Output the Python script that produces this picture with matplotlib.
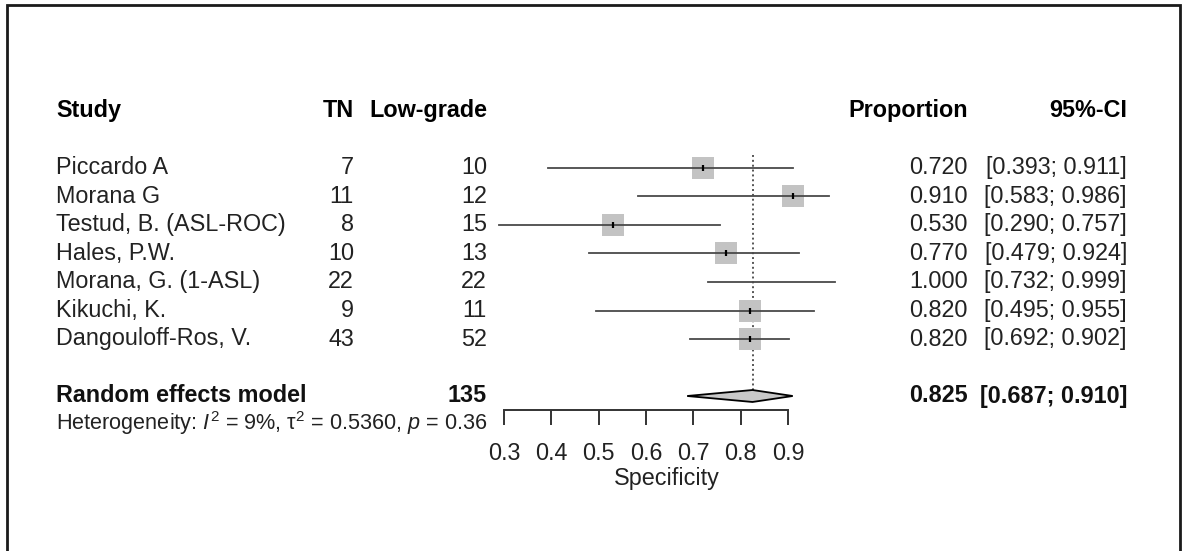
# forest plot of specificity (true negatives among low-grade tumours)

import numpy as np
import matplotlib.pyplot as plt
import matplotlib.transforms as mtransforms
from matplotlib.patches import Rectangle

plt.rcParams['font.family'] = ['Liberation Sans', 'DejaVu Sans']
plt.rcParams['mathtext.fontset'] = 'custom'
plt.rcParams['mathtext.rm'] = 'Liberation Sans'
plt.rcParams['mathtext.it'] = 'Liberation Sans:italic'
plt.rcParams['mathtext.bf'] = 'Liberation Sans:bold'

studies = ['Piccardo A', 'Morana G', 'Testud, B. (ASL-ROC)', 'Hales, P.W.',
           'Morana, G. (1-ASL)', 'Kikuchi, K.', 'Dangouloff-Ros, V.']
tn = [7, 11, 8, 10, 22, 9, 43]
low_grade = [10, 12, 15, 13, 22, 11, 52]
prop = [0.720, 0.910, 0.530, 0.770, 1.000, 0.820, 0.820]
lower = [0.393, 0.583, 0.290, 0.479, 0.732, 0.495, 0.692]
upper = [0.911, 0.986, 0.757, 0.924, 0.999, 0.955, 0.902]

pooled = 0.825
pooled_lower = 0.687
pooled_upper = 0.910
i2 = 9
tau2 = 0.5360
pval = 0.36

ticks = [0.3, 0.4, 0.5, 0.6, 0.7, 0.8, 0.9]

W, H = 1188, 551
fig = plt.figure(figsize=(W / 100, H / 100), dpi=100)
ax = fig.add_axes([0, 0, 1, 1])

# pixel layout: 0.3 at x=504, 0.9 at x=788, rows 28.5 px apart starting at y=168
px_per_unit = (788 - 504) / 0.6
ax.set_xlim(0.3 - 504 / px_per_unit, 0.3 + (W - 504) / px_per_unit)
row_h = 28.5
ax.set_ylim((H - 168) / row_h, -168 / row_h)

rows = np.arange(len(studies))
pooled_row = len(studies) + 1
axis_row = (410 - 168) / row_h

tcol = mtransforms.blended_transform_factory(fig.transFigure, ax.transData)
fs = 16.8
x_study, x_tn, x_n, x_prop, x_ci = 56 / W, 354 / W, 487 / W, 968 / W, 1127 / W

# column headers
hdr = -2
ax.text(x_study, hdr, 'Study', transform=tcol, fontsize=fs, fontweight='bold', va='center', ha='left')
ax.text(x_tn, hdr, 'TN', transform=tcol, fontsize=fs, fontweight='bold', va='center', ha='right')
ax.text(x_n, hdr, 'Low-grade', transform=tcol, fontsize=fs, fontweight='bold', va='center', ha='right')
ax.text(x_prop, hdr, 'Proportion', transform=tcol, fontsize=fs, fontweight='bold', va='center', ha='right')
ax.text(x_ci, hdr, '95%-CI', transform=tcol, fontsize=fs, fontweight='bold', va='center', ha='right')

# reference line at pooled estimate
half_diamond = 0.21
ax.plot([pooled, pooled], [-0.46, pooled_row - half_diamond], color='#555555',
        linestyle=(0, (1, 1.5)), linewidth=1.4, zorder=1)

for i, r in enumerate(rows):
    ax.text(x_study, r, studies[i], transform=tcol, fontsize=fs, va='center', ha='left', color='#222222')
    ax.text(x_tn, r, str(tn[i]), transform=tcol, fontsize=fs, va='center', ha='right', color='#222222')
    ax.text(x_n, r, str(low_grade[i]), transform=tcol, fontsize=fs, va='center', ha='right', color='#222222')
    ax.text(x_prop, r, '%.3f' % prop[i], transform=tcol, fontsize=fs, va='center', ha='right', color='#222222')
    ax.text(x_ci, r, '[%.3f; %.3f]' % (lower[i], upper[i]), transform=tcol, fontsize=fs,
            va='center', ha='right', color='#222222')
    # square only when the estimate lies inside its interval
    if lower[i] <= prop[i] <= upper[i]:
        ax.plot(prop[i], r, marker='s', markersize=16, color='#c3c3c3', markeredgewidth=0, zorder=2)
        ax.plot(prop[i], r, marker='|', markersize=5, color='black', markeredgewidth=1.6, zorder=4)
    ax.plot([lower[i], upper[i]], [r, r], color='#4a4a4a', linewidth=1.3, zorder=3)

# pooled random effects row
ax.text(x_study, pooled_row, 'Random effects model', transform=tcol, fontsize=fs,
        fontweight='bold', va='center', ha='left', color='#111111')
ax.text(x_n, pooled_row, str(sum(low_grade)), transform=tcol, fontsize=fs,
        fontweight='bold', va='center', ha='right', color='#111111')
ax.text(x_prop, pooled_row, '%.3f' % pooled, transform=tcol, fontsize=fs,
        fontweight='bold', va='center', ha='right', color='#111111')
ax.text(x_ci, pooled_row, '[%.3f; %.3f]' % (pooled_lower, pooled_upper), transform=tcol,
        fontsize=fs, fontweight='bold', va='center', ha='right', color='#111111')
ax.fill([pooled_lower, pooled, pooled_upper, pooled],
        [pooled_row, pooled_row - half_diamond, pooled_row, pooled_row + half_diamond],
        facecolor='#c8c8c8', edgecolor='black', linewidth=1.3, zorder=3)

ax.text(x_study, pooled_row + 0.95,
        r'Heterogeneity: $I^2$ = %d%%, τ$^2$ = %.4f, $p$ = %.2f' % (i2, tau2, pval),
        transform=tcol, fontsize=15.6, va='center', ha='left', color='#222222')

# x axis
for s in ['top', 'right', 'left']:
    ax.spines[s].set_visible(False)
ax.spines['bottom'].set_position(('data', axis_row))
ax.spines['bottom'].set_bounds(ticks[0], ticks[-1])
ax.spines['bottom'].set_color('#333333')
ax.spines['bottom'].set_linewidth(1.4)
ax.set_xticks(ticks)
ax.set_xticklabels(['%.1f' % t for t in ticks])
ax.tick_params(axis='x', direction='out', length=10.8, width=1.4, color='#333333',
               labelsize=fs, labelcolor='#222222', pad=12)
ax.set_yticks([])
ax.patch.set_visible(False)

xlab_x = (min(lower) + max(upper)) / 2
ax.text(xlab_x, (479 - 168) / row_h, 'Specificity', fontsize=fs, va='center', ha='center', color='#222222')

# outer frame
fig.add_artist(Rectangle((7 / W, -0.05), (1180 - 7) / W, 1.05 - 5 / H, transform=fig.transFigure,
                         fill=False, edgecolor='#1a1a1a', linewidth=2))

plt.savefig('out.png', dpi=100)
